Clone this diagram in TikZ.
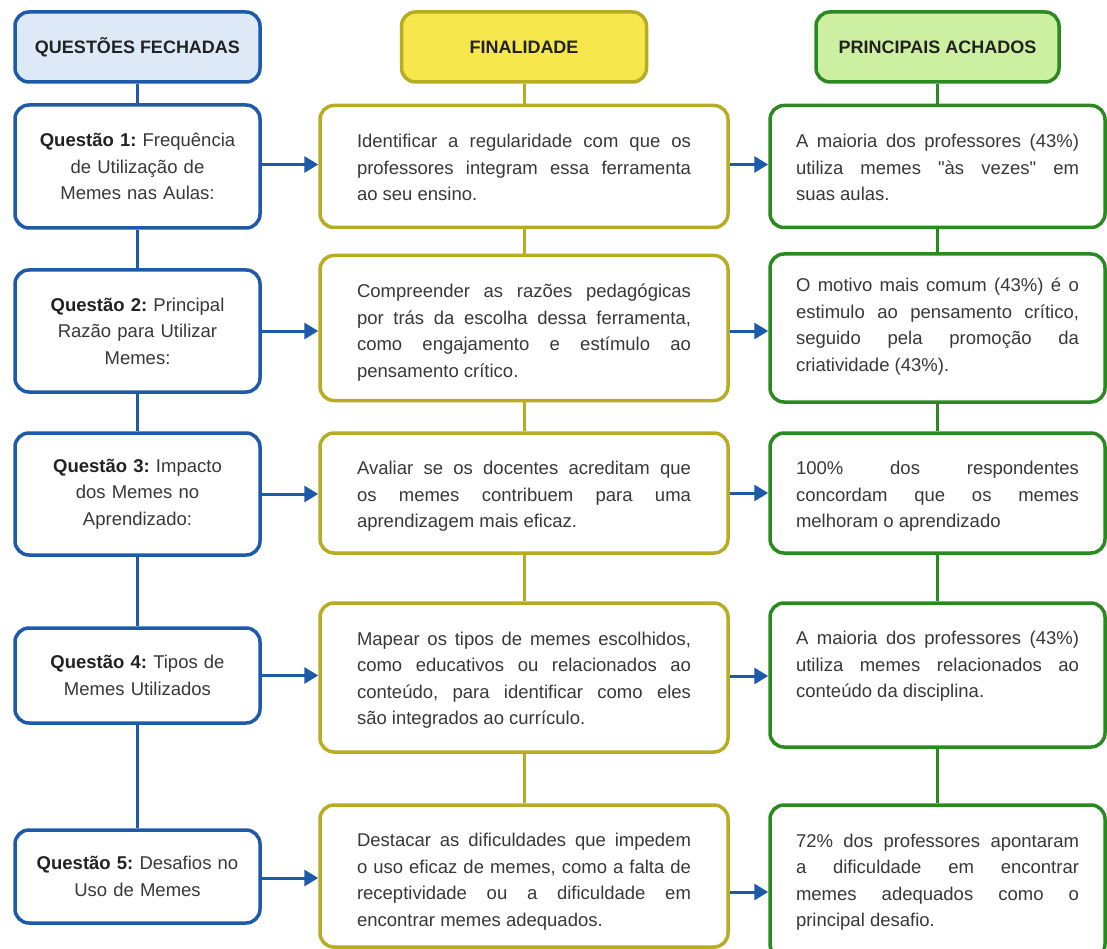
\documentclass[tikz,border=0pt]{standalone}
\usepackage{fontspec}
\setmainfont{Liberation Sans}
\usetikzlibrary{arrows.meta}
\definecolor{qblue}{HTML}{1E5AAA}
\definecolor{qfill}{HTML}{DEE9F8}
\definecolor{folive}{HTML}{B8AC22}
\definecolor{ffill}{HTML}{F6E84C}
\definecolor{agreen}{HTML}{2B8A1F}
\definecolor{afill}{HTML}{CDEFA2}
\definecolor{txt}{HTML}{383838}
\definecolor{htxt}{HTML}{222222}
\newcommand\jl[1]{\par\noindent\hbox to\hsize{\spaceskip=0pt\xspaceskip=0pt #1}\par}
\newcommand\lastln[1]{\par\noindent\hbox{\spaceskip=0pt\xspaceskip=0pt #1}\par}
\newcommand\raiseby[1]{\par\vspace*{#1pt}}
\newcommand\qb[1]{{\bfseries\color{htxt}#1}}
\tikzset{
  basebox/.style={rectangle, rounded corners=14pt, line width=3.5pt, fill=white,
    inner sep=0pt, text=txt, font=\fontsize{18.5}{26.5}\selectfont\frenchspacing},
  hdr/.style={basebox, minimum width=245pt, minimum height=70pt, text=htxt,
    font=\fontsize{18}{22}\selectfont\bfseries},
  qnode/.style={basebox, draw=qblue, minimum width=245pt, text width=228pt, align=center},
  fnode/.style={basebox, draw=folive, minimum width=408pt, text width=334pt, align=left},
  anode/.style={basebox, draw=agreen, minimum width=335pt, text width=283pt, align=left},
  qline/.style={draw=qblue, line width=3pt},
  fline/.style={draw=folive, line width=3pt},
  aline/.style={draw=agreen, line width=3pt},
  arr/.style={draw=qblue, line width=3pt, -{Triangle[length=14pt,width=16pt]}}
}
\begin{document}
\begin{tikzpicture}[x=1pt,y=-1pt]
\useasboundingbox[fill=white] (0,0) rectangle (1107,949);

% headers
\node[hdr, draw=qblue, fill=qfill] (h1) at (137.5,47) {QUESTÕES FECHADAS};
\node[hdr, draw=folive, fill=ffill] (h2) at (524,47) {FINALIDADE};
\node[hdr, draw=agreen, fill=afill, minimum width=243pt] (h3) at (937.5,47) {PRINCIPAIS ACHADOS};

% column 1
\node[qnode, minimum height=123pt] (q1) at (137.5,166.5) {\qb{Questão 1:} Frequência\\de Utilização de\\Memes nas Aulas:};
\node[qnode, minimum height=122pt] (q2) at (137.5,331) {\qb{Questão 2:} Principal\\Razão para Utilizar\\Memes:};
\node[qnode, minimum height=122pt] (q3) at (137.5,494) {\qb{Questão 3:} Impacto\\dos Memes no\\Aprendizado:};
\node[qnode, minimum height=95pt] (q4) at (137.5,675.5) {\qb{Questão 4:} Tipos de\\Memes Utilizados};
\node[qnode, minimum height=93pt] (q5) at (137.5,876.5) {\qb{Questão 5:} Desafios no\\Uso de Memes};

% column 2
\node[fnode, minimum height=122pt] (f1) at (524,166.5) {%
\jl{Identificar a regularidade com que os}%
\jl{professores integram essa ferramenta}%
\lastln{ao seu ensino.}\raiseby{11}};
\node[fnode, minimum height=145pt] (f2) at (524,328) {%
\jl{Compreender as razões pedagógicas}%
\jl{por trás da escolha dessa ferramenta,}%
\jl{como engajamento e estímulo ao}%
\lastln{pensamento crítico.}\raiseby{4}};
\node[fnode, minimum height=120pt] (f3) at (524,493) {%
\jl{Avaliar se os docentes acreditam que}%
\jl{os memes contribuem para uma}%
\lastln{aprendizagem mais eficaz.}\raiseby{6}};
\node[fnode, minimum height=149pt] (f4) at (524,677.5) {%
\jl{Mapear os tipos de memes escolhidos,}%
\jl{como educativos ou relacionados ao}%
\jl{conteúdo, para identificar como eles}%
\lastln{são integrados ao currículo.}\raiseby{8}};
\node[fnode, minimum height=142pt] (f5) at (524,876) {%
\jl{Destacar as dificuldades que impedem}%
\jl{o uso eficaz de memes, como a falta de}%
\jl{receptividade ou a dificuldade em}%
\lastln{encontrar memes adequados.}\raiseby{2}};

% column 3
\node[anode, minimum height=122pt] (a1) at (937.5,166.5) {%
\jl{A maioria dos professores (43\%)}%
\jl{utiliza memes \textquotedbl às vezes\textquotedbl{} em}%
\lastln{suas aulas.}\raiseby{11}};
\node[anode, minimum height=148pt] (a2) at (937.5,328) {%
\jl{O motivo mais comum (43\%) é o}%
\jl{estimulo ao pensamento crítico,}%
\jl{seguido pela promoção da}%
\lastln{criatividade (43\%).}\raiseby{16}};
\node[anode, minimum height=120pt] (a3) at (937.5,493) {%
\jl{100\% dos respondentes}%
\jl{concordam que os memes}%
\lastln{melhoram o aprendizado}\raiseby{6}};
\node[anode, minimum height=144pt] (a4) at (937.5,675) {%
\jl{A maioria dos professores (43\%)}%
\jl{utiliza memes relacionados ao}%
\lastln{conteúdo da disciplina.}%
\lastln{\strut}};
\node[anode, minimum height=153pt] (a5) at (937.5,881.5) {%
\jl{72\% dos professores apontaram}%
\jl{a dificuldade em encontrar}%
\jl{memes adequados como o}%
\lastln{principal desafio.}\raiseby{12}};

% vertical connectors
\draw[qline] (h1) -- (q1);
\draw[qline] (q1) -- (q2);
\draw[qline] (q2) -- (q3);
\draw[qline] (q3) -- (q4);
\draw[qline] (q4) -- (q5);
\draw[fline] (h2) -- (f1);
\draw[fline] (f1) -- (f2);
\draw[fline] (f2) -- (f3);
\draw[fline] (f3) -- (f4);
\draw[fline] (f4) -- (f5);
\draw[aline] (h3) -- (a1);
\draw[aline] (a1) -- (a2);
\draw[aline] (a2) -- (a3);
\draw[aline] (a3) -- (a4);
\draw[aline] (a4) -- (a5);

% arrows
\draw[arr] ([yshift=2pt]q1.east) -- ([yshift=2pt]q1.east -| f1.west);
\draw[arr] (q2.east) -- (q2.east -| f2.west);
\draw[arr] (q3.east) -- (q3.east -| f3.west);
\draw[arr] (q4.east) -- (q4.east -| f4.west);
\draw[arr] ([yshift=-1.5pt]q5.east) -- ([yshift=-1.5pt]q5.east -| f5.west);
\draw[arr] ([yshift=2pt]f1.east) -- ([yshift=2pt]f1.east -| a1.west);
\draw[arr] ([yshift=-3pt]f2.east) -- ([yshift=-3pt]f2.east -| a2.west);
\draw[arr] (f3.east) -- (f3.east -| a3.west);
\draw[arr] ([yshift=1.5pt]f4.east) -- ([yshift=1.5pt]f4.east -| a4.west);
\draw[arr] ([yshift=-16pt]f5.east) -- ([yshift=-16pt]f5.east -| a5.west);
\end{tikzpicture}
\end{document}
